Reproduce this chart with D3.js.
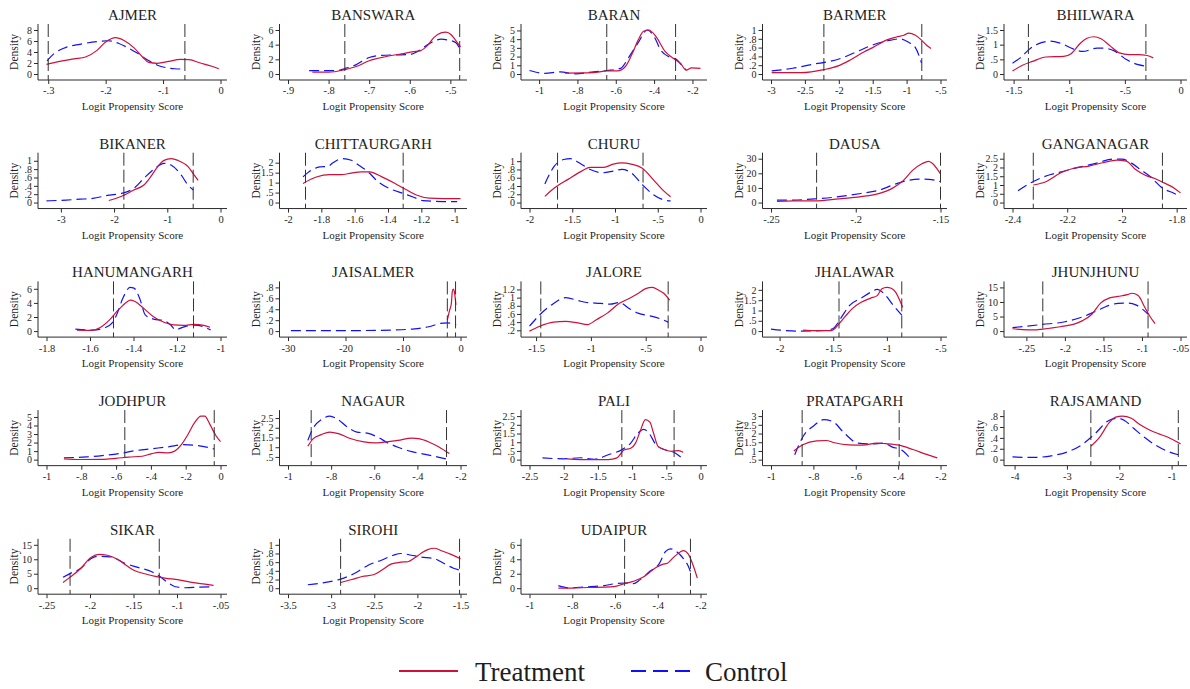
<!DOCTYPE html>
<html>
<head>
<meta charset="utf-8">
<script src="https://cdn.jsdelivr.net/npm/d3@7"></script>
<style>
body { margin: 0; background: #fff; }
text { font-family: "Liberation Serif", "DejaVu Serif", serif; fill: #1e1e1e; }
</style>
</head>
<body>
<div id="chart"></div>
<script>
var districts = ["AJMER", "BANSWARA", "BARAN", "BARMER", "BHILWARA",
	"BIKANER", "CHITTAURGARH", "CHURU", "DAUSA", "GANGANAGAR",
	"HANUMANGARH", "JAISALMER", "JALORE", "JHALAWAR", "JHUNJHUNU",
	"JODHPUR", "NAGAUR", "PALI", "PRATAPGARH", "RAJSAMAND",
	"SIKAR", "SIROHI", "UDAIPUR"];

var xTicks = [
	[-0.3, -0.2, -0.1, 0],
	[-0.9, -0.8, -0.7, -0.6, -0.5],
	[-1, -0.8, -0.6, -0.4, -0.2],
	[-3, -2.5, -2, -1.5, -1, -0.5],
	[-1.5, -1, -0.5, 0],
	[-3, -2, -1, 0],
	[-2, -1.8, -1.6, -1.4, -1.2, -1],
	[-2, -1.5, -1, -0.5, 0],
	[-0.25, -0.2, -0.15],
	[-2.4, -2.2, -2, -1.8],
	[-1.8, -1.6, -1.4, -1.2, -1],
	[-30, -20, -10, 0],
	[-1.5, -1, -0.5, 0],
	[-2, -1.5, -1, -0.5],
	[-0.25, -0.2, -0.15, -0.1, -0.05],
	[-1, -0.8, -0.6, -0.4, -0.2, 0],
	[-1, -0.8, -0.6, -0.4, -0.2],
	[-2.5, -2, -1.5, -1, -0.5, 0],
	[-1, -0.8, -0.6, -0.4, -0.2],
	[-4, -3, -2, -1],
	[-0.25, -0.2, -0.15, -0.1, -0.05],
	[-3.5, -3, -2.5, -2, -1.5],
	[-1, -0.8, -0.6, -0.4, -0.2]
];

var yTicks = [
	[0, 2, 4, 6, 8],
	[0, 2, 4, 6],
	[0, 1, 2, 3, 4, 5],
	[0, 0.2, 0.4, 0.6, 0.8, 1],
	[0, 0.5, 1, 1.5],
	[0, 0.2, 0.4, 0.6, 0.8, 1],
	[0, 0.5, 1, 1.5, 2],
	[0, 0.2, 0.4, 0.6, 0.8, 1],
	[0, 10, 20, 30],
	[0, 0.5, 1, 1.5, 2, 2.5],
	[0, 2, 4, 6],
	[0, 0.2, 0.4, 0.6, 0.8],
	[0.2, 0.4, 0.6, 0.8, 1, 1.2],
	[0, 0.5, 1, 1.5, 2],
	[0, 5, 10, 15],
	[0, 1, 2, 3, 4, 5],
	[0.5, 1, 1.5, 2, 2.5],
	[0, 0.5, 1, 1.5, 2, 2.5],
	[0.5, 1, 1.5, 2, 2.5, 3],
	[0, 0.2, 0.4, 0.6, 0.8],
	[0, 5, 10, 15],
	[0, 0.2, 0.4, 0.6, 0.8, 1],
	[0, 2, 4, 6]
];

// common support bounds (vertical dashed lines)
var cutoffs = [
	[-0.3, -0.062], [-0.76, -0.477], [-0.647, -0.288], [-2.22, -0.776], [-1.367, -0.311],
	[-1.816, -0.513], [-1.895, -1.309], [-1.672, -0.672], [-0.2231, -0.15], [-2.324, -1.852],
	[-1.492, -1.124], [-2.29, -0.86], [-1.457, -0.295], [-1.446, -0.861], [-0.2287, -0.0921],
	[-0.55, -0.036], [-0.8925, -0.2648], [-1.15, -0.386], [-0.853, -0.395], [-2.543, -0.872],
	[-0.2229, -0.1204], [-2.89, -1.511], [-0.555, -0.247]
];

var treatment = [
	[[-0.303,1.75],[-0.28,2.3],[-0.255,2.75],[-0.235,3.1],[-0.215,4.3],[-0.2,5.8],[-0.183,6.6],[-0.168,6.1],[-0.15,4.7],[-0.135,3.0],[-0.125,2.1],[-0.11,1.95],[-0.09,2.3],[-0.07,2.65],[-0.055,2.6],[-0.035,2.0],[-0.015,1.4],[-0.003,0.95]],
	[[-0.84,0.25],[-0.8,0.25],[-0.76,0.6],[-0.73,1.05],[-0.7,1.8],[-0.66,2.35],[-0.62,2.75],[-0.59,3.05],[-0.575,3.15],[-0.556,3.9],[-0.54,5.0],[-0.523,5.6],[-0.511,5.7],[-0.498,5.35],[-0.487,4.6],[-0.475,3.7]],
	[[-0.865,0.1],[-0.72,0.15],[-0.645,0.35],[-0.59,0.35],[-0.552,0.8],[-0.517,2.2],[-0.483,3.9],[-0.455,4.9],[-0.428,5.05],[-0.39,4.3],[-0.343,2.6],[-0.3,1.8],[-0.262,1.2],[-0.232,0.45],[-0.205,0.7],[-0.158,0.65]],
	[[-2.99,0.03],[-2.55,0.03],[-2.22,0.1],[-2.0,0.19],[-1.83,0.32],[-1.63,0.5],[-1.5,0.6],[-1.3,0.77],[-1.15,0.84],[-1.04,0.88],[-0.97,0.93],[-0.87,0.88],[-0.78,0.77],[-0.71,0.66],[-0.64,0.58]],
	[[-1.51,0.1],[-1.42,0.3],[-1.33,0.43],[-1.21,0.58],[-1.05,0.6],[-0.98,0.7],[-0.9,1.05],[-0.84,1.22],[-0.78,1.27],[-0.71,1.19],[-0.63,0.95],[-0.55,0.72],[-0.46,0.66],[-0.38,0.66],[-0.3,0.63],[-0.245,0.55]],
	[[-2.1,0.05],[-1.88,0.14],[-1.63,0.3],[-1.44,0.42],[-1.31,0.62],[-1.18,0.86],[-1.06,1.01],[-0.93,1.05],[-0.8,1.01],[-0.61,0.86],[-0.49,0.65],[-0.42,0.53]],
	[[-1.91,0.96],[-1.83,1.28],[-1.75,1.4],[-1.68,1.4],[-1.62,1.48],[-1.56,1.54],[-1.51,1.54],[-1.44,1.3],[-1.36,0.97],[-1.29,0.64],[-1.23,0.38],[-1.15,0.22],[-1.07,0.2],[-0.965,0.2]],
	[[-1.82,0.15],[-1.71,0.35],[-1.55,0.56],[-1.39,0.76],[-1.29,0.85],[-1.13,0.85],[-1.02,0.93],[-0.92,0.96],[-0.81,0.93],[-0.68,0.83],[-0.55,0.55],[-0.44,0.3],[-0.35,0.14]],
	[[-0.2465,0.7],[-0.237,1.1],[-0.224,1.1],[-0.21,2.5],[-0.197,4.0],[-0.186,6.3],[-0.1785,9.7],[-0.172,15],[-0.1665,22],[-0.161,26.5],[-0.157,28.2],[-0.1545,26.5],[-0.152,23],[-0.15,19.5]],
	[[-2.324,1.0],[-2.276,1.2],[-2.225,1.68],[-2.173,1.97],[-2.12,2.08],[-2.07,2.27],[-2.018,2.42],[-1.984,2.36],[-1.95,1.88],[-1.915,1.56],[-1.88,1.37],[-1.846,1.12],[-1.81,0.83],[-1.786,0.55]],
	[[-1.66,0.12],[-1.595,0.1],[-1.555,0.48],[-1.51,1.6],[-1.47,3.0],[-1.432,4.1],[-1.415,4.4],[-1.393,4.2],[-1.354,3.25],[-1.308,2.05],[-1.26,1.25],[-1.215,0.87],[-1.168,0.8],[-1.122,0.95],[-1.076,0.8],[-1.048,0.55]],
	[[-2.29,0.2],[-1.9,0.38],[-1.6,0.5],[-1.43,0.72],[-1.26,0.77],[-1.03,0.7],[-0.8,0.48]],
	[[-1.56,0.18],[-1.466,0.3],[-1.34,0.4],[-1.23,0.42],[-1.12,0.38],[-1.03,0.34],[-0.95,0.46],[-0.85,0.62],[-0.74,0.86],[-0.65,0.98],[-0.57,1.1],[-0.5,1.22],[-0.44,1.25],[-0.38,1.18],[-0.333,1.1],[-0.282,0.94]],
	[[-1.78,0.05],[-1.67,0.02],[-1.54,0.02],[-1.5,0.06],[-1.455,0.3],[-1.39,0.7],[-1.325,1.08],[-1.24,1.4],[-1.15,1.6],[-1.09,1.72],[-1.046,2.05],[-1.0,2.12],[-0.96,2.08],[-0.917,1.88],[-0.874,1.42],[-0.853,1.15]],
	[[-0.268,0.8],[-0.255,0.5],[-0.24,0.4],[-0.229,0.7],[-0.206,1.5],[-0.188,2.4],[-0.177,3.6],[-0.165,5.8],[-0.154,9.5],[-0.142,11.4],[-0.131,11.9],[-0.119,12.5],[-0.113,13.0],[-0.105,12.2],[-0.096,8.0],[-0.09,5.2],[-0.083,2.6]],
	[[-0.9,0.1],[-0.81,0.02],[-0.68,0.03],[-0.6,0.15],[-0.53,0.3],[-0.45,0.4],[-0.395,0.7],[-0.357,0.85],[-0.3,0.8],[-0.263,1.0],[-0.225,1.75],[-0.187,2.95],[-0.15,4.3],[-0.112,5.1],[-0.09,5.1],[-0.07,4.5],[-0.055,3.9],[-0.026,2.8],[0.0,2.1]],
	[[-0.908,1.05],[-0.885,1.42],[-0.845,1.65],[-0.806,1.78],[-0.766,1.7],[-0.711,1.45],[-0.647,1.27],[-0.6,1.22],[-0.553,1.26],[-0.49,1.35],[-0.426,1.47],[-0.394,1.44],[-0.347,1.27],[-0.3,1.01],[-0.252,0.67]],
	[[-1.95,0.05],[-1.62,0.0],[-1.35,0.0],[-1.22,0.1],[-1.12,0.55],[-1.02,0.66],[-0.95,0.95],[-0.885,1.6],[-0.805,2.3],[-0.74,2.15],[-0.685,1.5],[-0.62,0.76],[-0.52,0.57],[-0.42,0.48],[-0.32,0.52],[-0.253,0.42]],
	[[-0.892,1.0],[-0.85,1.35],[-0.785,1.58],[-0.74,1.6],[-0.7,1.47],[-0.632,1.35],[-0.568,1.33],[-0.5,1.45],[-0.46,1.42],[-0.395,1.33],[-0.33,1.08],[-0.265,0.8],[-0.215,0.6]],
	[[-2.54,0.25],[-2.37,0.42],[-2.2,0.67],[-2.07,0.78],[-1.94,0.8],[-1.77,0.76],[-1.6,0.64],[-1.43,0.55],[-1.26,0.48],[-1.09,0.42],[-0.83,0.29]],
	[[-0.231,2.0],[-0.222,4.0],[-0.2105,6.9],[-0.199,10.6],[-0.1895,11.7],[-0.18,11.4],[-0.168,9.9],[-0.156,7.4],[-0.149,6.1],[-0.137,5.0],[-0.125,4.1],[-0.114,3.5],[-0.098,2.9],[-0.083,2.0],[-0.064,1.25],[-0.058,0.95]],
	[[-2.89,0.13],[-2.76,0.2],[-2.64,0.27],[-2.51,0.31],[-2.41,0.42],[-2.3,0.56],[-2.19,0.6],[-2.11,0.61],[-2.03,0.7],[-1.96,0.8],[-1.88,0.89],[-1.8,0.92],[-1.73,0.87],[-1.61,0.78],[-1.5,0.68]],
	[[-0.865,0.02],[-0.8,0.02],[-0.725,0.1],[-0.65,0.14],[-0.605,0.22],[-0.56,0.6],[-0.515,0.95],[-0.47,1.5],[-0.44,2.15],[-0.408,2.85],[-0.378,3.3],[-0.355,3.45],[-0.325,4.3],[-0.295,5.0],[-0.28,5.2],[-0.257,4.7],[-0.235,3.2],[-0.215,1.4]]
];

var control = [
	[[-0.302,2.4],[-0.29,3.7],[-0.27,4.8],[-0.245,5.4],[-0.215,5.9],[-0.196,6.05],[-0.178,5.6],[-0.16,4.7],[-0.145,3.8],[-0.126,2.5],[-0.11,1.6],[-0.092,1.1],[-0.08,0.95],[-0.065,0.9]],
	[[-0.848,0.45],[-0.78,0.45],[-0.757,0.8],[-0.733,1.25],[-0.7,2.25],[-0.67,2.55],[-0.636,2.6],[-0.6,2.65],[-0.58,3.1],[-0.564,3.7],[-0.54,4.5],[-0.523,4.75],[-0.507,4.65],[-0.487,4.3],[-0.475,3.2]],
	[[-1.05,0.4],[-0.97,0.08],[-0.89,0.25],[-0.81,0.02],[-0.715,0.25],[-0.645,0.4],[-0.575,0.65],[-0.53,2.0],[-0.483,3.6],[-0.436,5.05],[-0.4,4.3],[-0.367,2.8],[-0.32,1.95],[-0.285,1.7],[-0.25,0.85],[-0.232,0.45]],
	[[-2.99,0.07],[-2.68,0.13],[-2.35,0.23],[-2.15,0.28],[-1.96,0.36],[-1.7,0.53],[-1.5,0.66],[-1.23,0.77],[-1.1,0.8],[-0.97,0.72],[-0.87,0.6],[-0.78,0.25]],
	[[-1.51,0.37],[-1.44,0.55],[-1.36,0.84],[-1.25,1.07],[-1.17,1.12],[-1.08,1.05],[-0.96,0.85],[-0.88,0.77],[-0.75,0.88],[-0.69,0.88],[-0.59,0.78],[-0.49,0.5],[-0.38,0.32],[-0.31,0.27]],
	[[-3.27,0.04],[-2.9,0.06],[-2.64,0.08],[-2.4,0.1],[-2.13,0.17],[-1.82,0.23],[-1.63,0.34],[-1.44,0.58],[-1.25,0.8],[-1.06,0.94],[-0.93,0.9],[-0.74,0.66],[-0.61,0.42],[-0.51,0.3]],
	[[-1.91,1.29],[-1.86,1.62],[-1.81,1.79],[-1.76,1.82],[-1.73,2.0],[-1.675,2.2],[-1.62,2.12],[-1.58,1.9],[-1.52,1.54],[-1.46,1.05],[-1.39,0.7],[-1.31,0.46],[-1.25,0.28],[-1.19,0.1],[-1.07,0.05],[-0.985,0.05]],
	[[-1.82,0.45],[-1.71,0.88],[-1.6,1.04],[-1.52,1.06],[-1.42,0.96],[-1.29,0.8],[-1.15,0.72],[-1.02,0.76],[-0.92,0.8],[-0.81,0.72],[-0.68,0.43],[-0.55,0.19],[-0.44,0.07],[-0.35,0.04]],
	[[-0.2465,1.6],[-0.237,1.7],[-0.224,2.5],[-0.21,4.0],[-0.197,6.2],[-0.186,8.5],[-0.1785,11.8],[-0.17,15],[-0.1625,16],[-0.157,15.9],[-0.15,14.2]],
	[[-2.38,0.67],[-2.324,1.2],[-2.26,1.6],[-2.21,1.8],[-2.155,2.02],[-2.087,2.27],[-2.036,2.48],[-2.0,2.48],[-1.967,2.27],[-1.932,1.88],[-1.898,1.5],[-1.852,0.83],[-1.812,0.54],[-1.786,0.35]],
	[[-1.667,0.28],[-1.586,0.15],[-1.54,0.38],[-1.5,1.1],[-1.478,2.3],[-1.447,4.8],[-1.416,6.2],[-1.398,6.1],[-1.37,4.5],[-1.346,2.3],[-1.308,1.7],[-1.26,1.5],[-1.23,0.9],[-1.207,0.2],[-1.168,0.6],[-1.122,0.85],[-1.076,0.6],[-1.045,0.15]],
	[[-29.5,0.01],[-24,0.01],[-18,0.01],[-12,0.02],[-8,0.04],[-5.5,0.08],[-3.5,0.14],[-2.3,0.15],[-1.1,0.13],[-0.75,0.12]],
	[[-1.56,0.3],[-1.466,0.58],[-1.36,0.82],[-1.23,1.0],[-1.12,0.93],[-1.04,0.88],[-0.91,0.86],[-0.825,0.84],[-0.74,0.88],[-0.655,0.74],[-0.57,0.62],[-0.44,0.54],[-0.355,0.47],[-0.295,0.4]],
	[[-2.08,0.1],[-1.84,0.0],[-1.58,0.03],[-1.5,0.13],[-1.433,0.6],[-1.347,1.25],[-1.24,1.6],[-1.153,1.88],[-1.09,2.02],[-1.024,1.8],[-0.94,1.25],[-0.861,0.77]],
	[[-0.268,1.2],[-0.229,2.3],[-0.2,3.2],[-0.177,4.9],[-0.16,6.8],[-0.142,8.9],[-0.131,9.5],[-0.119,9.6],[-0.108,9.0],[-0.092,5.8]],
	[[-0.9,0.22],[-0.77,0.32],[-0.68,0.47],[-0.58,0.72],[-0.49,1.05],[-0.4,1.27],[-0.3,1.5],[-0.21,1.75],[-0.13,1.65],[-0.036,1.25]],
	[[-0.908,1.35],[-0.885,1.95],[-0.845,2.42],[-0.806,2.6],[-0.774,2.47],[-0.726,2.05],[-0.68,1.78],[-0.632,1.72],[-0.584,1.52],[-0.537,1.22],[-0.49,1.0],[-0.426,0.77],[-0.363,0.63],[-0.3,0.48],[-0.252,0.36]],
	[[-2.31,0.1],[-2.0,0.05],[-1.75,0.11],[-1.55,0.02],[-1.35,0.28],[-1.15,0.57],[-1.02,0.95],[-0.92,1.5],[-0.83,1.74],[-0.75,1.5],[-0.65,0.85],[-0.52,0.57],[-0.39,0.42],[-0.29,0.15]],
	[[-0.888,0.78],[-0.85,1.8],[-0.795,2.48],[-0.751,2.8],[-0.708,2.68],[-0.654,2.02],[-0.59,1.45],[-0.524,1.4],[-0.47,1.45],[-0.427,1.22],[-0.384,1.06],[-0.341,0.55]],
	[[-4.04,0.05],[-3.65,0.04],[-3.3,0.07],[-2.97,0.15],[-2.72,0.27],[-2.46,0.48],[-2.2,0.72],[-2.03,0.76],[-1.9,0.72],[-1.73,0.58],[-1.52,0.41],[-1.26,0.24],[-1.04,0.14],[-0.87,0.09]],
	[[-0.231,3.8],[-0.222,5.2],[-0.2105,6.9],[-0.199,10.2],[-0.191,11.0],[-0.176,10.8],[-0.16,8.6],[-0.145,7.2],[-0.129,5.7],[-0.12,4.1],[-0.11,1.8],[-0.102,0.5],[-0.09,0.15],[-0.075,0.35],[-0.058,0.45]],
	[[-3.27,0.08],[-3.1,0.12],[-2.89,0.21],[-2.72,0.35],[-2.57,0.53],[-2.41,0.65],[-2.28,0.76],[-2.19,0.8],[-2.07,0.76],[-1.96,0.72],[-1.8,0.68],[-1.69,0.57],[-1.58,0.46],[-1.5,0.41]],
	[[-0.865,0.35],[-0.816,0.05],[-0.74,0.18],[-0.65,0.36],[-0.605,0.6],[-0.555,0.72],[-0.514,0.62],[-0.484,1.15],[-0.438,2.3],[-0.393,3.4],[-0.363,5.1],[-0.34,5.45],[-0.31,5.0],[-0.28,4.1],[-0.257,3.05],[-0.247,2.3]]
];

var seriesNames = ["Treatment", "Control"];

var red = "#d0103a",
	blue = "#1010ff",
	axisColor = "#2b2b2b";

var svg = d3.select("#chart")
	.append("svg")
	.attr("width", 1190)
	.attr("height", 689)
	.style("background", "#fff");

// stata style labels: -.3 instead of -0.3
function stataLabel(v) {
	var s = String(+v.toFixed(4));
	return s.replace(/^(-?)0\./, "$1.");
}

function drawPanel(i) {
	var row = Math.floor(i / 5),
		col = i % 5;
	var left = 38 + col * 241.5,
		right = 227 + col * 240,
		top = 24 + row * 128.7,
		bottom = 80 + row * 128.55;

	var pts = treatment[i].concat(control[i]);
	var xVals = pts.map(function(p) { return p[0]; }).concat(xTicks[i]);
	var yVals = pts.map(function(p) { return p[1]; }).concat(yTicks[i]);

	var x = d3.scaleLinear().domain(d3.extent(xVals)).range([left + 8.5, right - 6.5]);
	var y = d3.scaleLinear().domain(d3.extent(yVals)).range([bottom - 6, top + 6]);

	var g = svg.append("g");

	// title centered over plot region
	g.append("text")
		.attr("x", (left + right) / 2)
		.attr("y", top - 4)
		.attr("text-anchor", "middle")
		.style("font-size", "15px")
		.text(districts[i]);

	// axes
	var xAxis = g.append("g")
		.attr("transform", "translate(0," + bottom + ")")
		.call(d3.axisBottom(x).tickValues(xTicks[i]).tickFormat(stataLabel).tickSize(4).tickPadding(3));
	var yAxis = g.append("g")
		.attr("transform", "translate(" + left + ",0)")
		.call(d3.axisLeft(y).tickValues(yTicks[i]).tickFormat(stataLabel).tickSize(4).tickPadding(2));

	[xAxis, yAxis].forEach(function(a) {
		a.select(".domain").remove();
		a.attr("font-family", null).attr("font-size", null);
		a.selectAll("line").attr("stroke", axisColor);
		a.selectAll("text").attr("fill", "#1e1e1e");
	});
	xAxis.selectAll("text").style("font-size", "10.5px");
	yAxis.selectAll("text").style("font-size", "10px");

	g.append("line")
		.attr("x1", left).attr("x2", right)
		.attr("y1", bottom).attr("y2", bottom)
		.attr("stroke", axisColor);
	g.append("line")
		.attr("x1", left).attr("x2", left)
		.attr("y1", top).attr("y2", bottom)
		.attr("stroke", axisColor);

	g.append("text")
		.attr("x", (left + right) / 2)
		.attr("y", bottom + 30)
		.attr("text-anchor", "middle")
		.style("font-size", "11px")
		.text("Logit Propensity Score");

	g.append("text")
		.attr("transform", "translate(" + (left - 24) + "," + ((top + bottom) / 2) + ") rotate(-90)")
		.attr("text-anchor", "middle")
		.attr("dy", "0.35em")
		.style("font-size", "11.5px")
		.text("Density");

	var line = d3.line()
		.x(function(d) { return x(d[0]); })
		.y(function(d) { return y(d[1]); })
		.curve(d3.curveMonotoneX);

	g.append("path")
		.attr("d", line(control[i]))
		.attr("fill", "none")
		.attr("stroke", blue)
		.attr("stroke-width", 1.2)
		.attr("stroke-dasharray", "10,5");

	g.append("path")
		.attr("d", line(treatment[i]))
		.attr("fill", "none")
		.attr("stroke", red)
		.attr("stroke-width", 1.2);

	cutoffs[i].forEach(function(c) {
		g.append("line")
			.attr("x1", x(c)).attr("x2", x(c))
			.attr("y1", top).attr("y2", bottom)
			.attr("stroke", "#333")
			.attr("stroke-width", 1)
			.attr("stroke-dasharray", "13,4");
	});
}

districts.forEach(function(name, i) {
	drawPanel(i);
});

// legend
var legend = svg.append("g");
legend.append("line")
	.attr("x1", 399).attr("x2", 458).attr("y1", 671).attr("y2", 671)
	.attr("stroke", red).attr("stroke-width", 2.2);
legend.append("text")
	.attr("x", 475).attr("y", 681)
	.style("font-size", "27px")
	.text(seriesNames[0]);
legend.append("line")
	.attr("x1", 631).attr("x2", 690).attr("y1", 671).attr("y2", 671)
	.attr("stroke", blue).attr("stroke-width", 2.2)
	.attr("stroke-dasharray", "15,7");
legend.append("text")
	.attr("x", 705).attr("y", 681)
	.style("font-size", "27px")
	.text(seriesNames[1]);
</script>
</body>
</html>
